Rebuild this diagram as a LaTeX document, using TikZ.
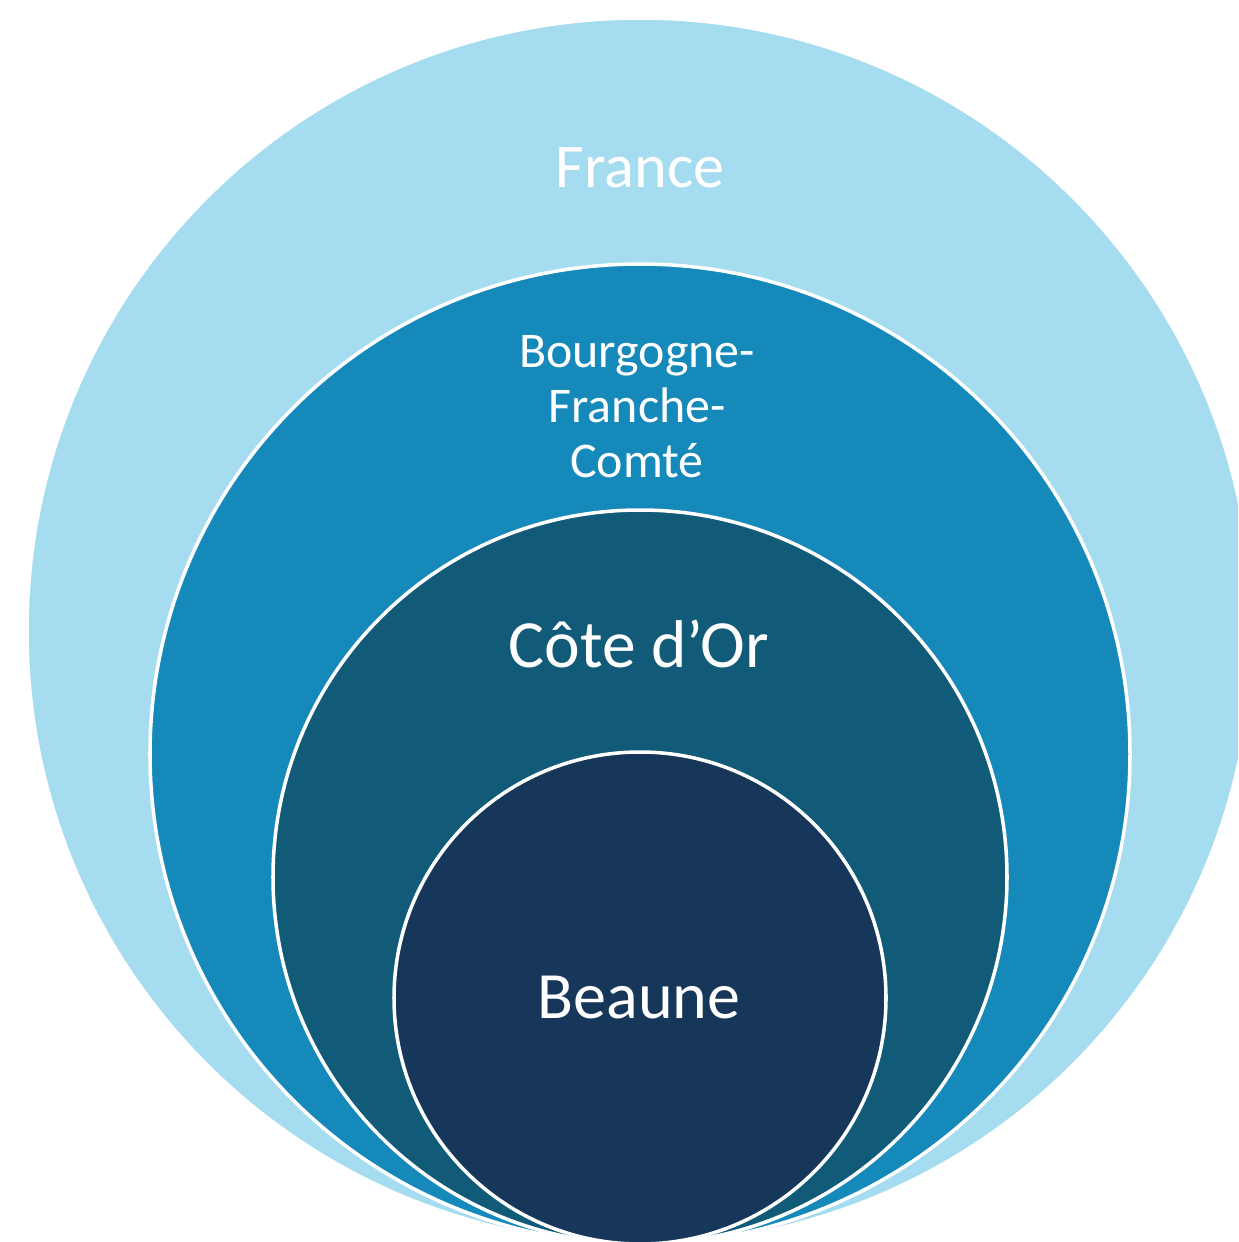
\documentclass[tikz,border=0pt]{standalone}
\usepackage{fontspec}
\setmainfont{Carlito}
\usepackage{xcolor}
\definecolor{franceblue}{HTML}{A6DCF0}
\definecolor{regionblue}{HTML}{1589BA}
\definecolor{deptblue}{HTML}{115A78}
\definecolor{cityblue}{HTML}{16365A}
\begin{document}
\begin{tikzpicture}[x=0.01cm, y=-0.01cm]
\useasboundingbox (0,0) rectangle (1238,1242);
\clip (0,0) rectangle (1238,1242);
\foreach \r/\c in {613/franceblue, 490/regionblue, 367/deptblue, 246/cityblue} {
 \fill[\c, draw=white, line width=1pt] (640,{1244-\r}) circle[radius=\r];
}
\node[white, anchor=base, font=\fontsize{17.7}{20}\selectfont] (france) at (640,187) {France};
\node[white, anchor=base, align=center, font=\fontsize{14.2}{15.5}\selectfont] (bourgogne) at (637,477) {Bourgogne-\\Franche-\\Comté};
\node[white, anchor=base, font=\fontsize{19.2}{21}\selectfont] (cotedor) at (639,667) {Côte d’Or};
\node[white, anchor=base, font=\fontsize{18.8}{21}\selectfont] (beaune) at (639,1018) {Beaune};
\end{tikzpicture}
\end{document}
